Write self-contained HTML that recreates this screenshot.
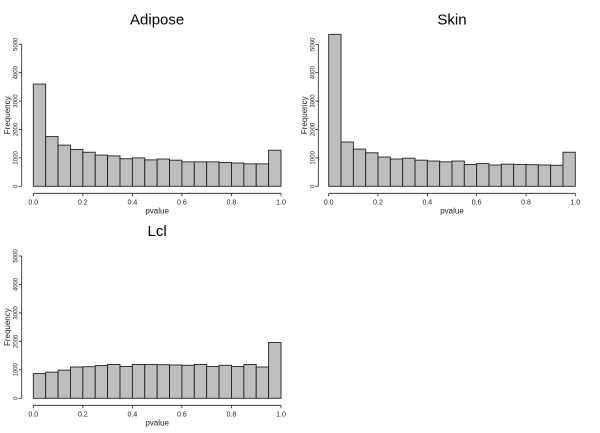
<!DOCTYPE html>
<html><head><meta charset="utf-8"><style>
body{margin:0;background:#fff}
svg{display:block;font-family:"Liberation Sans",sans-serif}
</style></head><body>
<svg id="c" width="600" height="433"></svg>
<script>
const ticksX=[0,0.2,0.4,0.6,0.8,1.0];
const tickXLabels=["0.0","0.2","0.4","0.6","0.8","1.0"];
const ticksY=[0,1000,2000,3000,4000,5000];
const adiposeCounts=[3600,1750,1450,1300,1200,1100,1070,970,1000,930,960,920,860,860,860,840,820,790,790,1270];
const skinCounts=[5350,1560,1310,1180,1030,960,990,920,890,860,890,770,800,750,780,770,760,750,740,1200];
const lclCounts=[870,920,990,1100,1110,1150,1190,1120,1190,1190,1180,1170,1160,1190,1120,1160,1120,1190,1100,1960];
const titles=["Adipose","Skin","Lcl"];
const NS="http://www.w3.org/2000/svg";
const svg=document.getElementById('c');
function mk(t,a,p){const e=document.createElementNS(NS,t);for(const k in a)e.setAttribute(k,a[k]);(p||svg).appendChild(e);return e;}
function panel(title,counts,x0,x1,y0,yTop,yAxisX,key){
  const g=mk('g',{});
  
  
  const sx=v=>x0+(x1-x0)*v, sy=v=>y0-(y0-yTop)*v/5000;
  const n=counts.length;
  counts.forEach((c,i)=>{
    const r=mk('rect',{x:sx(i/n),y:sy(c),width:sx((i+1)/n)-sx(i/n),height:y0-sy(c),fill:'#bebebe',stroke:'#222','stroke-width':0.9},g);
    
    
  });
  const ax=y0+7;
  mk('line',{x1:sx(0),x2:sx(1),y1:ax,y2:ax,stroke:'#222','stroke-width':0.8},g);
  ticksX.forEach((t,i)=>{
    mk('line',{x1:sx(t),x2:sx(t),y1:ax,y2:ax+3,stroke:'#222','stroke-width':0.8},g);
    const tx=mk('text',{x:sx(t),y:ax+11,'font-size':7,'text-anchor':'middle',fill:'#222'},g);tx.textContent=tickXLabels[i];
  });
  mk('line',{x1:yAxisX,x2:yAxisX,y1:sy(0),y2:sy(5000),stroke:'#222','stroke-width':0.8},g);
  ticksY.forEach(t=>{
    mk('line',{x1:yAxisX,x2:yAxisX-3,y1:sy(t),y2:sy(t),stroke:'#222','stroke-width':0.8},g);
    const tx=mk('text',{x:0,y:0,'font-size':6,'text-anchor':'middle',fill:'#222',transform:`translate(${yAxisX-4},${sy(t)}) rotate(-90)`},g);tx.textContent=t;
  });
  const xl=mk('text',{x:(sx(0)+sx(1))/2,y:ax+20,'font-size':8,'text-anchor':'middle',fill:'#222'},g);xl.textContent='pvalue';
  
  const yl=mk('text',{x:0,y:0,'font-size':8,'text-anchor':'middle',fill:'#222',transform:`translate(${yAxisX-11.5},${(sy(0)+sy(5000))/2}) rotate(-90)`},g);yl.textContent='Frequency';
  
  const tt=mk('text',{x:(sx(0)+sx(1))/2,y:yTop-20,'font-size':15,'text-anchor':'middle',fill:'#000'},g);tt.textContent=title;
  
}
panel(titles[0],adiposeCounts,33.3,281,186.3,44.3,21.7,'adipose');
panel(titles[1],skinCounts,328.7,575.3,186.3,44.3,318.3,'skin');
panel(titles[2],lclCounts,33.3,281,398.3,256,21.7,'lcl');
</script>
</body></html>
